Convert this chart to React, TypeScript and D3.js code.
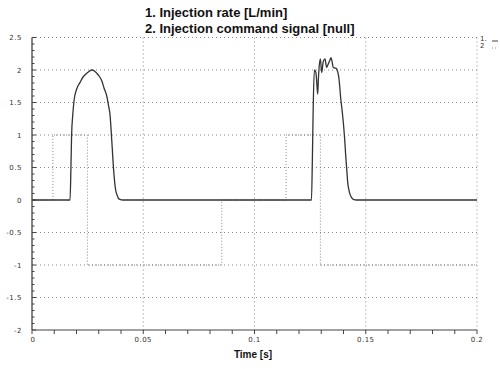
import React from "react";
import * as d3 from "d3";

const titleLines = ["1. Injection rate [L/min]", "2. Injection command signal [null]"];
const xLabel = "Time [s]";

// Series 1: injection rate [L/min]
const rateT = [0, 0.0171, 0.0175, 0.0178, 0.0183, 0.0189, 0.0200, 0.0216, 0.0231, 0.0246, 0.0258, 0.0268, 0.0278, 0.0291, 0.0303, 0.0313, 0.0324, 0.0336, 0.0344, 0.0351, 0.0356, 0.0361, 0.0365, 0.0369, 0.0374, 0.0378, 0.0383, 0.0388, 0.0395, 0.0409,
  0.1256, 0.1260, 0.1264, 0.1269, 0.1276, 0.1280, 0.1284, 0.1287, 0.1290, 0.1296, 0.1302, 0.1309, 0.1317, 0.1324, 0.1330, 0.1335, 0.1340, 0.1344, 0.1349, 0.1354, 0.1362, 0.1369, 0.1374, 0.1378, 0.1383, 0.1387, 0.1393, 0.1399, 0.1405, 0.1410, 0.1415, 0.1419, 0.1424, 0.1429, 0.1436, 0.1444, 0.1459, 0.2];
const rateV = [0, 0, 0.5, 1.0, 1.3, 1.53, 1.7, 1.81, 1.9, 1.95, 1.98, 2.0, 1.99, 1.95, 1.9, 1.84, 1.72, 1.6, 1.45, 1.3, 1.05, 0.78, 0.55, 0.37, 0.2, 0.12, 0.07, 0.03, 0.01, 0,
  0, 0.6, 1.45, 2.0, 1.96, 1.8, 1.63, 1.85, 2.02, 2.17, 1.96, 2.13, 2.17, 2.04, 2.08, 2.12, 2.16, 2.19, 2.12, 2.04, 2.03, 2.02, 1.97, 1.91, 1.75, 1.58, 1.4, 1.2, 0.95, 0.68, 0.45, 0.27, 0.16, 0.09, 0.04, 0.01, 0, 0];

// Series 2: injection command signal [null]
const cmdT = [0, 0.0094, 0.0249, 0.0853, 0.1142, 0.1296, 0.2];
const cmdV = [0, 1, -1, 0, 1, -1, -1];

const xTicks = [0, 0.05, 0.1, 0.15, 0.2];
const xTickLabels = ["0", "0.05", "0.1", "0.15", "0.2"];
const yTicks = [2.5, 2, 1.5, 1, 0.5, 0, -0.5, -1, -1.5, -2];
const yTickLabels = ["2.5", "2", "1.5", "1", "0.5", "0", "-0.5", "-1", "-1.5", "-2"];
const xGrid = [0.05, 0.1, 0.15, 0.2];
const yGrid = [2.5, 2, 1.5, 1, 0.5, -0.5, -1, -1.5];
const legendLabels = ["1.", "2"];

export default function App() {
  const x = d3.scaleLinear().domain([0, 0.2]).range([32, 477]);
  const y = d3.scaleLinear().domain([-2, 2.5]).range([330, 37.5]);

  const rateData = rateT.map((t, i) => [t, rateV[i]] as [number, number]);
  const cmdData = cmdT.map((t, i) => [t, cmdV[i]] as [number, number]);

  const rateLine = d3.line<[number, number]>().x(d => x(d[0])).y(d => y(d[1])).curve(d3.curveMonotoneX);
  const cmdLine = d3.line<[number, number]>().x(d => x(d[0])).y(d => y(d[1])).curve(d3.curveStepAfter);

  const minorY = d3.range(-2, 2.5001, 0.1);
  const minorX = d3.range(0, 0.2001, 0.01);
  const tickFont = "DejaVu Sans, sans-serif";

  return (
    <svg width={500} height={369} style={{ position: "absolute", left: 0, top: 0, background: "#fff" }}>
      {/* title */}
      {titleLines.map((t, i) => (
        <text key={i} x={145} y={17 + i * 16} fontFamily="Liberation Sans, Arial, sans-serif" fontWeight="bold" fontSize={13} fill="#111">{t}</text>
      ))}
      {/* grid */}
      {yGrid.map((v, i) => (
        <line key={"gy" + i} x1={x(0)} x2={x(0.2)} y1={y(v)} y2={y(v)} stroke="#888" strokeWidth={1} strokeDasharray="1,3" />
      ))}
      {xGrid.map((v, i) => (
        <line key={"gx" + i} x1={x(v)} x2={x(v)} y1={y(2.5)} y2={y(-2)} stroke="#888" strokeWidth={1} strokeDasharray="1,3" />
      ))}
      {/* axes */}
      <line x1={x(0)} x2={x(0)} y1={y(2.5)} y2={y(-2)} stroke="#333" strokeWidth={1.2} />
      <line x1={x(0)} x2={x(0.2)} y1={y(-2)} y2={y(-2)} stroke="#444" strokeWidth={1.2} />
      {minorY.map((v, i) => (
        <line key={"my" + i} x1={x(0)} x2={x(0) + (Math.abs(v * 2 - Math.round(v * 2)) < 1e-6 ? 4 : 2.5)} y1={y(v)} y2={y(v)} stroke="#444" strokeWidth={1} />
      ))}
      {minorX.map((v, i) => (
        <line key={"mx" + i} x1={x(v)} x2={x(v)} y1={y(-2)} y2={y(-2) + 4} stroke="#444" strokeWidth={1} />
      ))}
      {yTicks.map((v, i) => (
        <text key={"yl" + i} x={22} y={y(v) + 2.5} textAnchor="end" fontFamily={tickFont} fontSize={7} letterSpacing={0.5} fill="#333">{yTickLabels[i]}</text>
      ))}
      {xTicks.map((v, i) => (
        <text key={"xl" + i} x={x(v) + (i === 0 ? 1 : 0)} y={342} textAnchor="middle" fontFamily={tickFont} fontSize={7} letterSpacing={0.5} fill="#333">{xTickLabels[i]}</text>
      ))}
      <text x={253} y={358} textAnchor="middle" fontFamily="Liberation Sans, Arial, sans-serif" fontWeight="bold" fontSize={10} fill="#111">{xLabel}</text>
      {/* series */}
      <path d={cmdLine(cmdData) || ""} fill="none" stroke="#888" strokeWidth={1} strokeDasharray="1,2" />
      <path d={rateLine(rateData) || ""} fill="none" stroke="#333" strokeWidth={1.3} />
      {/* legend */}
      <text x={480} y={41} fontFamily={tickFont} fontSize={7} fill="#333">{legendLabels[0]}</text>
      <text x={480} y={48} fontFamily={tickFont} fontSize={7} fill="#333">{legendLabels[1]}</text>
      <line x1={492} x2={498} y1={41} y2={41} stroke="#444" strokeWidth={1} />
      <line x1={492} x2={498} y1={48} y2={48} stroke="#999" strokeWidth={1} strokeDasharray="1,2" />
    </svg>
  );
}
